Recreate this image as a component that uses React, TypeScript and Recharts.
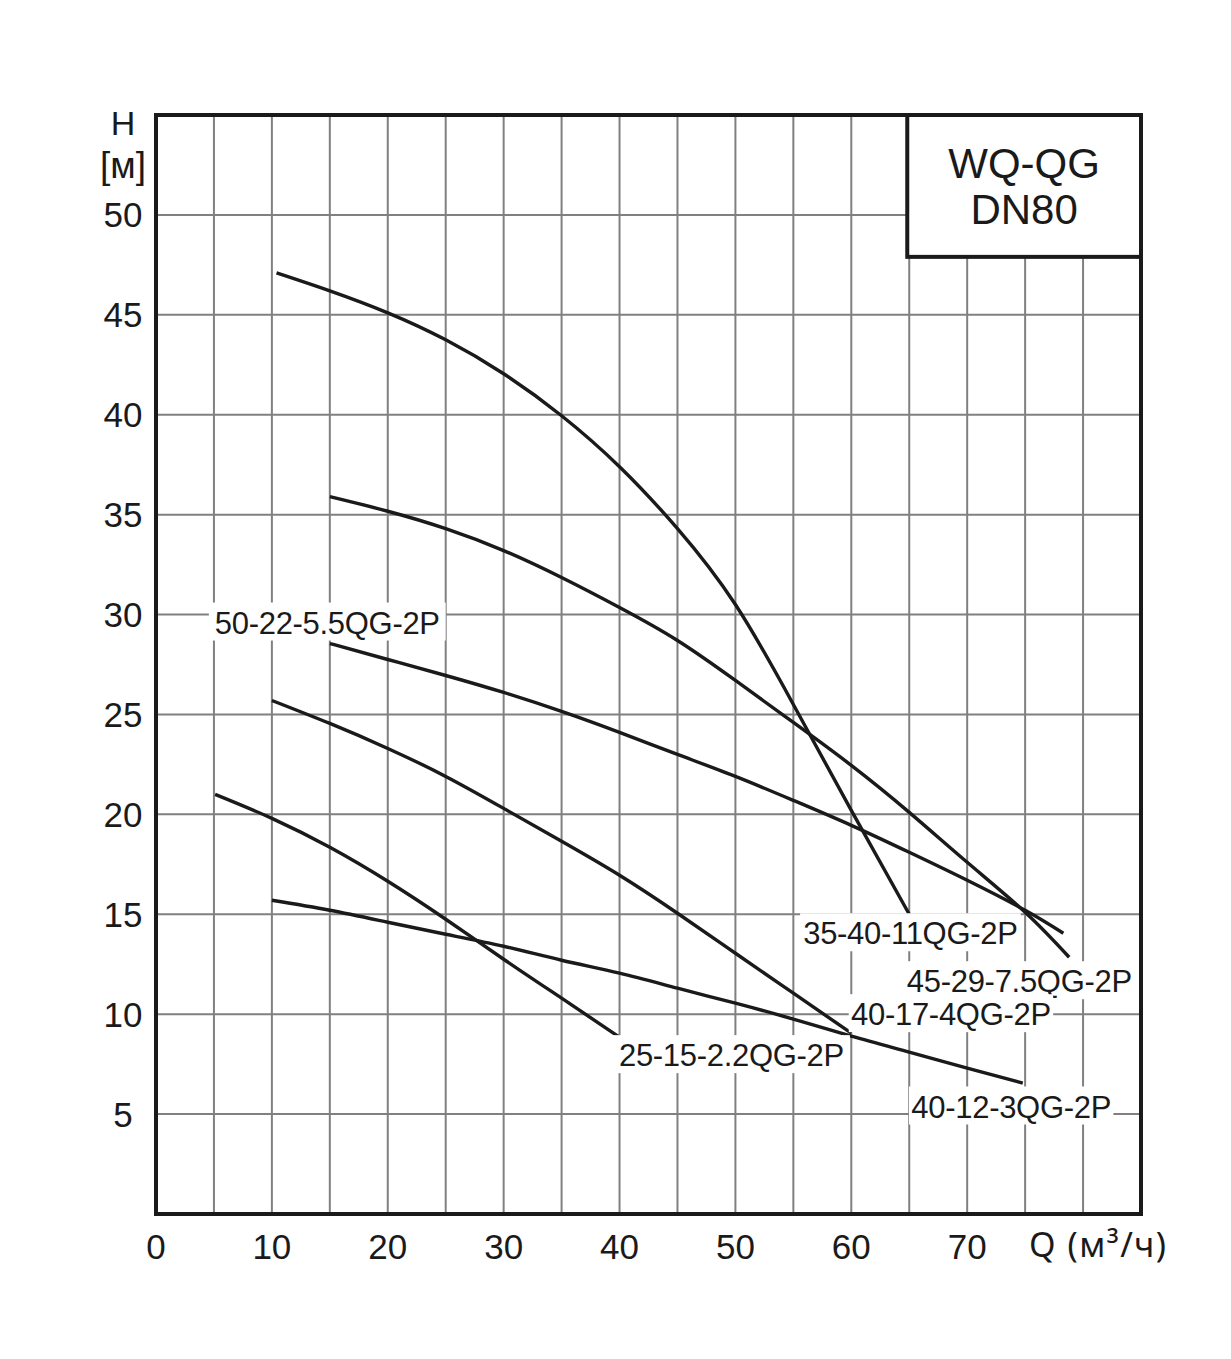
import React from 'react';
import {
  ComposedChart,
  Line,
  XAxis,
  YAxis,
  CartesianGrid,
  ReferenceArea,
  ReferenceDot,
} from 'recharts';

// ---- Data ----
const q35_40_11 = [10.4, 15, 20, 25, 30, 35, 40, 45, 50, 55, 60, 65];
const h35_40_11 = [47.1, 46.2, 45.1, 43.75, 42.05, 39.95, 37.4, 34.3, 30.5, 25.5, 20.2, 15.0];

const q45_29 = [15, 20, 25, 30, 35, 40, 45, 50, 55, 60, 65, 70, 75, 78.8];
const h45_29 = [35.9, 35.17, 34.3, 33.2, 31.85, 30.35, 28.7, 26.7, 24.6, 22.45, 20.1, 17.6, 15.1, 12.85];

const q50_22 = [15, 20, 25, 30, 35, 40, 45, 50, 55, 60, 65, 70, 75, 78.3];
const h50_22 = [28.55, 27.75, 26.95, 26.1, 25.15, 24.1, 23.0, 21.9, 20.7, 19.45, 18.1, 16.7, 15.2, 14.05];

const q40_17 = [10, 15, 20, 25, 30, 35, 40, 45, 50, 55, 60];
const h40_17 = [25.7, 24.55, 23.3, 21.9, 20.3, 18.65, 16.95, 15.05, 13.05, 11.05, 9.05];

const q25_15 = [5.1, 10, 15, 20, 25, 30, 35, 40];
const h25_15 = [21.0, 19.8, 18.35, 16.65, 14.75, 12.75, 10.8, 8.85];

const q40_12 = [10, 15, 20, 25, 30, 35, 40, 45, 50, 55, 60, 65, 70, 74.8];
const h40_12 = [15.7, 15.2, 14.6, 14.0, 13.4, 12.7, 12.05, 11.3, 10.55, 9.75, 8.9, 8.1, 7.3, 6.55];

const labelNames = [
  '50-22-5.5QG-2P',
  '35-40-11QG-2P',
  '45-29-7.5QG-2P',
  '40-17-4QG-2P',
  '25-15-2.2QG-2P',
  '40-12-3QG-2P',
];
const labelQ = [14.78, 65.1, 74.5, 68.6, 49.66, 73.8];
const labelH = [29.6, 14.05, 11.65, 10.0, 7.95, 5.38];

const xTicks = [0, 5, 10, 15, 20, 25, 30, 35, 40, 45, 50, 55, 60, 65, 70, 75, 80, 85];
const xLabelTicks = [0, 10, 20, 30, 40, 50, 60, 70];
const yTicks = [0, 5, 10, 15, 20, 25, 30, 35, 40, 45, 50, 55];
const yLabelTicks = [5, 10, 15, 20, 25, 30, 35, 40, 45, 50];

const xAxisTitle = 'Q (м³/ч)';
const yAxisTitle1 = 'H';
const yAxisTitle2 = '[м]';
const titleLine1 = 'WQ-QG';
const titleLine2 = 'DN80';
const titleBox = { q1: 64.83, q2: 85, h1: 47.9, h2: 55 };

const zip = (qs: number[], hs: number[]) => qs.map((q, i) => ({ q, h: hs[i] }));

const series = [
  zip(q35_40_11, h35_40_11),
  zip(q45_29, h45_29),
  zip(q50_22, h50_22),
  zip(q40_17, h40_17),
  zip(q25_15, h25_15),
  zip(q40_12, h40_12),
];

const FONT = '"Liberation Sans", Arial, sans-serif';
const INK = '#1a1a1a';

const XTick = (props: any) => {
  const { x, y, payload } = props;
  const v = payload.value;
  if (v === 80) {
    return (
      <text x={x - 54} y={y + 43} textAnchor="start" fontSize={34} fontFamily='"Noto Sans", sans-serif' fill={INK} letterSpacing={1.5}>
        {xAxisTitle}
      </text>
    );
  }
  if (!xLabelTicks.includes(v)) return null;
  return (
    <text x={x} y={y + 45} textAnchor="middle" fontSize={35} fontFamily={FONT} fill={INK}>
      {v}
    </text>
  );
};

const YTick = (props: any) => {
  const { x, y, payload } = props;
  const v = payload.value;
  const cx = x - 33;
  if (v === 55) {
    return (
      <g>
        <text x={cx} y={y + 20} textAnchor="middle" fontSize={34} fontFamily={FONT} fill={INK}>
          {yAxisTitle1}
        </text>
        <text x={cx} y={y + 63} textAnchor="middle" fontSize={37} fontFamily={FONT} fill={INK}>
          {yAxisTitle2}
        </text>
      </g>
    );
  }
  if (!yLabelTicks.includes(v)) return null;
  return (
    <text x={cx} y={y + 12.5} textAnchor="middle" fontSize={35} fontFamily={FONT} fill={INK}>
      {v}
    </text>
  );
};

const makeLabelShape = (text: string) => (props: any) => {
  const { cx, cy } = props;
  const fs = 31;
  const w = text.length * 16.2 + 10;
  const h = 38;
  return (
    <g>
      <rect x={cx - w / 2} y={cy - h / 2 - 1} width={w} height={h} fill="#ffffff" />
      <text x={cx} y={cy + fs * 0.358} textAnchor="middle" fontSize={fs} fontFamily={FONT} fill={INK} letterSpacing={-0.3}>
        {text}
      </text>
    </g>
  );
};

const TitleShape = (props: any) => {
  const { x, y, width, height } = props;
  const cx = x + width / 2;
  return (
    <g>
      <rect x={x} y={y} width={width} height={height} fill="#ffffff" stroke={INK} strokeWidth={4} />
      <text x={cx} y={y + 63} textAnchor="middle" fontSize={42} fontFamily={FONT} fill={INK}>
        {titleLine1}
      </text>
      <text x={cx} y={y + 109} textAnchor="middle" fontSize={42} fontFamily={FONT} fill={INK}>
        {titleLine2}
      </text>
    </g>
  );
};

export default function App() {
  return (
    <div style={{ width: 1215, height: 1340, background: '#fff' }}>
      <ComposedChart
        width={1215}
        height={1340}
        margin={{ top: 107, right: 82, bottom: 74, left: 88 }}
      >
        <CartesianGrid stroke="#808080" strokeWidth={2} />
        <XAxis
          dataKey="q"
          type="number"
          domain={[0, 85]}
          ticks={xTicks}
          interval={0}
          allowDataOverflow
          axisLine={false}
          tickLine={false}
          tickSize={0}
          tickMargin={0}
          height={60}
          tick={<XTick />}
        />
        <YAxis
          type="number"
          domain={[0, 55]}
          ticks={yTicks}
          interval={0}
          allowDataOverflow
          axisLine={false}
          tickLine={false}
          tickSize={0}
          tickMargin={0}
          width={60}
          tick={<YTick />}
        />
        {series.map((d, i) => (
          <Line
            key={i}
            data={d}
            dataKey="h"
            type="natural"
            stroke={INK}
            strokeWidth={3.4}
            dot={false}
            activeDot={false}
            isAnimationActive={false}
          />
        ))}
        {labelNames.map((name, i) => (
          <ReferenceDot
            key={name}
            x={labelQ[i]}
            y={labelH[i]}
            ifOverflow="visible"
            shape={makeLabelShape(name)}
          />
        ))}
        <ReferenceArea
          x1={titleBox.q1}
          x2={titleBox.q2}
          y1={titleBox.h1}
          y2={titleBox.h2}
          ifOverflow="visible"
          shape={<TitleShape />}
        />
        <ReferenceArea
          x1={0}
          x2={85}
          y1={0}
          y2={55}
          ifOverflow="visible"
          fill="none"
          fillOpacity={0}
          stroke={INK}
          strokeWidth={4}
        />
      </ComposedChart>
    </div>
  );
}
